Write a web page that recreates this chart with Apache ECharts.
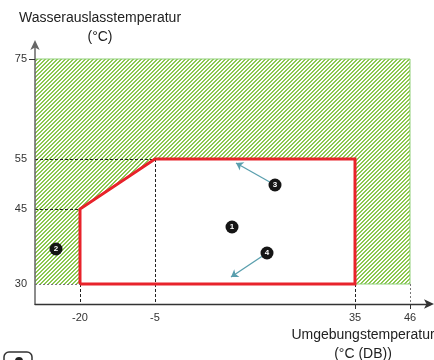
<!DOCTYPE html>
<html><head><meta charset="utf-8">
<script src="https://cdn.jsdelivr.net/npm/echarts@6/dist/echarts.min.js"></script>
<style>html,body{margin:0;padding:0;background:#fff}#c{width:434px;height:360px}</style>
</head><body><div id="c"></div>
<script>
// ---- data ----
const xTicks = [-20, -5, 35, 46];
const yTicks = [30, 45, 55, 75];
const xMin = -29, xMax = 50, yMin = 26, yMax = 78;
// red operating envelope
const envelopeX = [-20, -20, -5, 35, 35];
const envelopeY = [30, 45, 55, 55, 30];
// hatched extended range
const extendedMaxX = 46;
const extendedMinY = 30;
const extendedMaxY = 75;
// numbered markers
const markerLabels = ['1', '2', '3', '4'];
const markerX = [10.4, -24.8, 19, 17.4];
const markerY = [41.4, 37, 49.8, 36.2];
// arrows from markers 3 and 4
const arrowMarker = [2, 3];
const arrowTipX = [11.2, 10.2];
const arrowTipY = [54.2, 31.4];

// ---- hatch pattern ----
const hatch = document.createElement('canvas');
hatch.width = 4; hatch.height = 4;
(function () {
  const g = hatch.getContext('2d');
  g.fillStyle = '#ffffff'; g.fillRect(0, 0, 4, 4);
  g.fillStyle = '#8cc850';
  for (let i = 0; i < 4; i++) for (let j = 0; j < 4; j++) {
    const s = (i + j) % 4;
    if (s === 3 || s === 0) g.fillRect(i, j, 1, 1);
  }
})();

const envPts = envelopeX.map((x, i) => [x, envelopeY[i]]);
const envClosed = envPts.concat([envPts[0]]);

const envTop = Math.max(...envelopeY), envBottom = Math.min(...envelopeY);
const guideBlack = [
  [[xMin, 55], [-5, 55]],
  [[xMin, 45], [-20, 45]],
  [[-20, envBottom], [-20, yMin]],
  [[-5, envTop], [-5, yMin]],
  [[35, envBottom], [35, yMin]]
];
const guideGray = [
  [[xMin, extendedMinY], [-20, extendedMinY]],
  [[extendedMaxX, extendedMinY], [extendedMaxX, yMin]]
];

const chart = echarts.init(document.getElementById('c'));
chart.setOption({
  animation: false,
  textStyle: { fontFamily: 'Liberation Sans, Arial, sans-serif' },
  title: [
    { text: 'Wasserauslasstemperatur\n(°C)', left: 95, top: 4, textAlign: 'center',
      textStyle: { fontSize: 14, fontWeight: 'normal', color: '#222', lineHeight: 19 } },
    { text: 'Umgebungstemperatur\n(°C (DB))', left: 358, top: 321, textAlign: 'center',
      textStyle: { fontSize: 14, fontWeight: 'normal', color: '#222', lineHeight: 19 } }
  ],
  grid: { left: 35, right: 4, top: 44, bottom: 56, containLabel: false },
  xAxis: {
    type: 'value', min: xMin, max: xMax, z: 10,
    splitLine: { show: false },
    axisLine: { show: true, onZero: false, symbol: ['none', 'arrow'], symbolSize: [7, 10], symbolOffset: [0, 4],
      lineStyle: { color: '#333', width: 1.3 } },
    axisTick: { show: true, customValues: [35, 46], length: 5, lineStyle: { color: '#333' } },
    axisLabel: { customValues: xTicks, fontSize: 11, color: '#333', margin: 8 }
  },
  yAxis: {
    type: 'value', min: yMin, max: yMax, z: 10,
    splitLine: { show: false },
    axisLine: { show: true, onZero: false, symbol: ['none', 'arrow'], symbolSize: [7, 10], symbolOffset: [0, 4],
      lineStyle: { color: '#666', width: 1.5 } },
    axisTick: { show: true, customValues: [75], length: 6, lineStyle: { color: '#333' } },
    axisLabel: { customValues: yTicks, fontSize: 11, color: '#333', margin: 8 }
  },
  series: [
    {
      type: 'custom', z: 1, silent: true,
      data: [[xMin, extendedMinY]],
      renderItem: function (params, api) {
        const p = [[xMin, extendedMinY], [xMin, extendedMaxY], [extendedMaxX, extendedMaxY], [extendedMaxX, extendedMinY]].map(q => api.coord(q));
        const w = envPts.map(q => api.coord(q));
        return { type: 'group', children: [
          { type: 'polygon', shape: { points: p }, style: { fill: { image: hatch, repeat: 'repeat' }, stroke: null } },
          { type: 'polyline', shape: { points: [p[1], p[2], p[3], api.coord([35, extendedMinY])] },
            style: { stroke: '#8fcf78', lineWidth: 1, fill: null } },
          { type: 'polygon', shape: { points: w }, style: { fill: '#ffffff', stroke: null } }
        ] };
      }
    },
    {
      type: 'lines', coordinateSystem: 'cartesian2d', z: 2, silent: true,
      data: guideBlack.map(c => ({ coords: c })),
      lineStyle: { color: '#222', width: 1, type: [3, 2], opacity: 1 }
    },
    {
      type: 'lines', coordinateSystem: 'cartesian2d', z: 2, silent: true,
      data: guideGray.map(c => ({ coords: c })),
      lineStyle: { color: '#777', width: 1, type: [2, 2], opacity: 1 }
    },
    {
      type: 'line', z: 3, silent: true, symbol: 'none',
      data: envClosed,
      lineStyle: { color: '#e8232b', width: 3, join: 'miter' }
    },
    {
      type: 'lines', coordinateSystem: 'cartesian2d', z: 4, silent: true,
      symbol: ['none', 'arrow'], symbolSize: 7,
      data: arrowMarker.map((m, i) => ({ coords: [[markerX[m], markerY[m]], [arrowTipX[i], arrowTipY[i]]] })),
      lineStyle: { color: '#5a9fae', width: 1.3, opacity: 1 }
    },
    {
      type: 'scatter', z: 5, silent: true, symbolSize: 13,
      data: markerLabels.map((t, i) => [markerX[i], markerY[i], t]),
      itemStyle: { color: '#151515', opacity: 1 },
      label: { show: true, position: 'inside', formatter: p => p.value[2], color: '#fff', fontSize: 8, fontWeight: 'bold' }
    }
  ],
  graphic: [
    { type: 'rect', shape: { x: 4, y: 352, width: 28, height: 16, r: 5 }, style: { fill: null, stroke: '#333', lineWidth: 1.5 } },
    { type: 'circle', shape: { cx: 19, cy: 361, r: 4 }, style: { fill: '#222' } }
  ]
});
</script></body></html>
